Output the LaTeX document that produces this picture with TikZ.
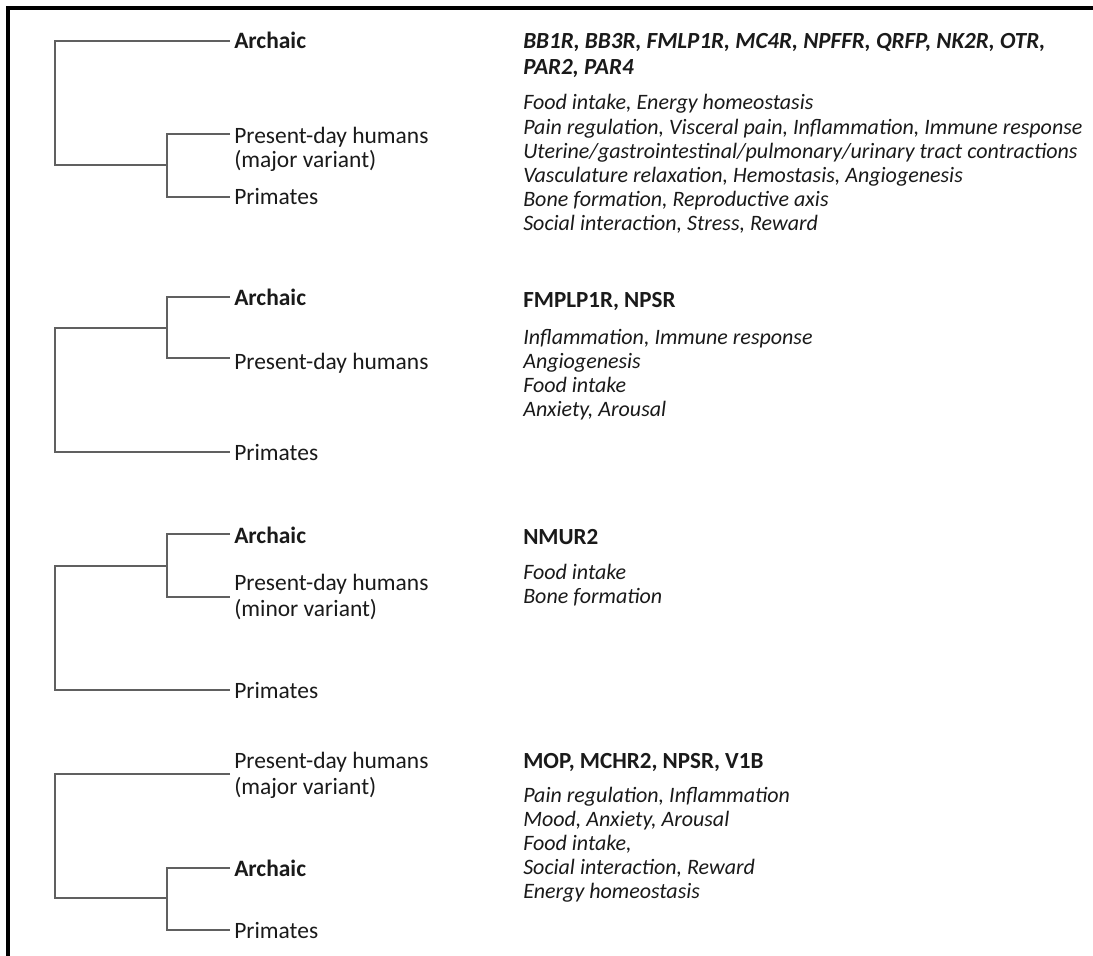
\documentclass[tikz,border=0pt]{standalone}
\usepackage{fontspec}
\setmainfont{Carlito}
\definecolor{txt}{HTML}{1A1A1A}
\definecolor{br}{HTML}{606060}
\begin{document}
\begin{tikzpicture}[x=0.75pt,y=-0.75pt,
  branch/.style={draw=br, line width=1.1pt},
  framebar/.style={draw=black, line width=2.3pt},
  leaf/.style={anchor=base west, inner sep=0pt, text=txt, font=\fontsize{17.6}{21}\selectfont},
  leafb/.style={leaf, font=\fontsize{17.6}{21}\selectfont\bfseries},
  genes/.style={anchor=base west, inner sep=0pt, text=txt, font=\fontsize{17.3}{20}\selectfont\bfseries},
  genesi/.style={genes, font=\fontsize{17.3}{20}\selectfont\bfseries\itshape},
  func/.style={anchor=base west, inner sep=0pt, text=txt, font=\fontsize{16.5}{18}\selectfont\itshape},
]
\useasboundingbox (0,0) rectangle (1093,956);
\fill[white] (0,0) rectangle (1093,956);
\draw[framebar] (8,956) -- (8,8) -- (1093,8);

% ---------- Tree 1 ----------
\coordinate (r1) at (55,165);
\coordinate (n1) at (167,165);
\coordinate (t1a) at (230,41);
\coordinate (t1b) at (230,134);
\coordinate (t1c) at (230,197);
\draw[branch] (t1a) -| (r1) -- (n1);
\draw[branch] (t1b) -| (n1) |- (t1c);
\node[leafb] (a1) at (234,48.5) {Archaic};
\node[leaf] (p1) at (234,143) {Present-day humans};
\node[leaf] (p1v) at (234,167) {(major variant)};
\node[leaf] (m1) at (234,204) {Primates};
\node[genesi] (g1) at (523,48.3) {BB1R, BB3R, FMLP1R, MC4R, NPFFR, QRFP, NK2R, OTR,};
\node[genesi] (g1b) at (523,75) {PAR2, PAR4};
\foreach \t [count=\i from 0] in {{Food intake, Energy homeostasis},
  {Pain regulation, Visceral pain, Inflammation, Immune response},
  {Uterine/gastrointestinal/pulmonary/urinary tract contractions},
  {Vasculature relaxation, Hemostasis, Angiogenesis},
  {Bone formation, Reproductive axis},
  {Social interaction, Stress, Reward}}
  \node[func, name=f1-\i] at (523,110+24*\i) {\t};

% ---------- Tree 2 ----------
\coordinate (r2) at (55,328);
\coordinate (n2) at (167,328);
\coordinate (t2a) at (230,297);
\coordinate (t2b) at (230,358);
\coordinate (t2c) at (230,452);
\draw[branch] (t2a) -| (n2) |- (t2b);
\draw[branch] (n2) -- (r2) |- (t2c);
\node[leafb] (a2) at (234,305) {Archaic};
\node[leaf] (p2) at (234,369) {Present-day humans};
\node[leaf] (m2) at (234,460) {Primates};
\node[genes] (g2) at (523,307) {FMPLP1R, NPSR};
\foreach \t [count=\i from 0] in {{Inflammation, Immune response},
  {Angiogenesis}, {Food intake}, {Anxiety, Arousal}}
  \node[func, name=f2-\i] at (523,344+24*\i) {\t};

% ---------- Tree 3 ----------
\coordinate (r3) at (55,566);
\coordinate (n3) at (167,566);
\coordinate (t3a) at (230,534);
\coordinate (t3b) at (230,597);
\coordinate (t3c) at (230,690);
\draw[branch] (t3a) -| (n3) |- (t3b);
\draw[branch] (n3) -- (r3) |- (t3c);
\node[leafb] (a3) at (234,543) {Archaic};
\node[leaf] (p3) at (234,590) {Present-day humans};
\node[leaf] (p3v) at (234,616) {(minor variant)};
\node[leaf] (m3) at (234,698) {Primates};
\node[genes] (g3) at (523,544) {NMUR2};
\foreach \t [count=\i from 0] in {{Food intake}, {Bone formation}}
  \node[func, name=f3-\i] at (523,579+24*\i) {\t};

% ---------- Tree 4 ----------
\coordinate (r4) at (55,898);
\coordinate (n4) at (167,898);
\coordinate (t4a) at (230,774);
\coordinate (t4b) at (230,868);
\coordinate (t4c) at (230,930);
\draw[branch] (t4a) -| (r4) -- (n4);
\draw[branch] (t4b) -| (n4) |- (t4c);
\node[leaf] (p4) at (234,768) {Present-day humans};
\node[leaf] (p4v) at (234,794) {(major variant)};
\node[leafb] (a4) at (234,876) {Archaic};
\node[leaf] (m4) at (234,938) {Primates};
\node[genes] (g4) at (523,768) {MOP, MCHR2, NPSR, V1B};
\foreach \t [count=\i from 0] in {{Pain regulation, Inflammation},
  {Mood, Anxiety, Arousal}, {Food intake,}, {Social interaction, Reward},
  {Energy homeostasis}}
  \node[func, name=f4-\i] at (523,802+24*\i) {\t};
\end{tikzpicture}
\end{document}
